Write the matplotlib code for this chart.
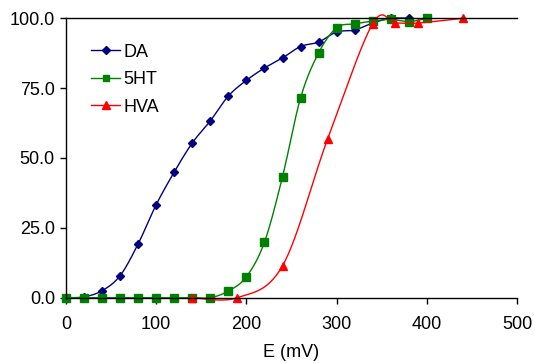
import numpy as np
import matplotlib.pyplot as plt

plt.rcParams['font.family'] = ['Liberation Sans', 'DejaVu Sans']

# potential steps (mV) and percent response for each analyte
da_e = [0, 20, 40, 60, 80, 100, 120, 140, 160, 180, 200, 220, 240, 260, 280, 300, 320, 340, 360, 380]
da_y = [0.0, 0.3, 2.5, 7.9, 19.3, 33.3, 45.0, 55.4, 63.3, 72.2, 77.8, 82.2, 85.8, 89.9, 91.5, 95.1, 95.8, 98.3, 100.0, 100.0]

ht_e = [0, 20, 40, 60, 80, 100, 120, 140, 160, 180, 200, 220, 240, 260, 280, 300, 320, 340, 360, 380, 400]
ht_y = [0.0, 0.0, 0.0, 0.0, 0.0, 0.0, 0.0, 0.0, 0.0, 2.4, 7.5, 19.9, 43.3, 71.5, 87.6, 96.6, 98.0, 99.0, 99.6, 98.8, 100.0]

hva_e = [140, 190, 240, 290, 340, 365, 390, 440]
hva_y = [0.0, 0.0, 11.4, 56.8, 98.1, 98.3, 98.3, 100.0]


def smooth(x, y, n=30):
    # Catmull-Rom style bezier through the points (like a spreadsheet "smoothed line")
    x = np.asarray(x, float)
    y = np.asarray(y, float)
    p = np.column_stack([x, y])
    out = [p[0]]
    t = np.linspace(0, 1, n)[1:, None]
    for i in range(len(p) - 1):
        p0 = p[i - 1] if i > 0 else p[i]
        p1, p2 = p[i], p[i + 1]
        p3 = p[i + 2] if i + 2 < len(p) else p[i + 1]
        c1 = p1 + (p2 - p0) / 6
        c2 = p2 - (p3 - p1) / 6
        seg = ((1 - t) ** 3) * p1 + 3 * ((1 - t) ** 2) * t * c1 + 3 * (1 - t) * t ** 2 * c2 + t ** 3 * p2
        out.extend(seg)
    out = np.array(out)
    return out[:, 0], out[:, 1]


fig = plt.figure(figsize=(5.35, 3.63), dpi=100)
ax = fig.add_axes([0.1234, 0.1799, 0.8430, 0.7697])

series = [
    ('DA', da_e, da_y, '#000080', 'D', 4.3, 3.8),
    ('5HT', ht_e, ht_y, '#008000', 's', 5.4, 4.8),
    ('HVA', hva_e, hva_y, '#FF0000', '^', 6.0, 5.2),
]
for name, e, y, col, mk, ms, lms in series:
    sx, sy = smooth(e, y)
    ax.plot(sx, sy, color=col, lw=1, clip_on=False)
    ax.plot(e, y, ls='none', marker=mk, ms=ms, color=col, mec=col, clip_on=False)
    ax.plot([], [], color=col, lw=1, marker=mk, ms=lms, label=name)

ax.set_xlim(0, 500)
ax.set_ylim(0, 100)
ax.set_xticks([0, 100, 200, 300, 400, 500])
ax.set_yticks([0, 25, 50, 75, 100])
ax.set_yticklabels(['%.1f' % v for v in [0, 25, 50, 75, 100]])
ax.tick_params(direction='out', length=4, width=1, labelsize=13)
ax.tick_params(axis='x', pad=9)
ax.tick_params(axis='y', pad=4)
ax.spines['right'].set_visible(False)
for s in ['left', 'bottom', 'top']:
    ax.spines[s].set_linewidth(1)
ax.set_xlabel('E (mV)', fontsize=13, labelpad=8)

ax.legend(loc='upper left', bbox_to_anchor=(0.04, 0.935), frameon=False, fontsize=13,
          handlelength=1.6, handletextpad=0.2, labelspacing=0.58, borderaxespad=0)

fig.savefig('out.png', dpi=100)
